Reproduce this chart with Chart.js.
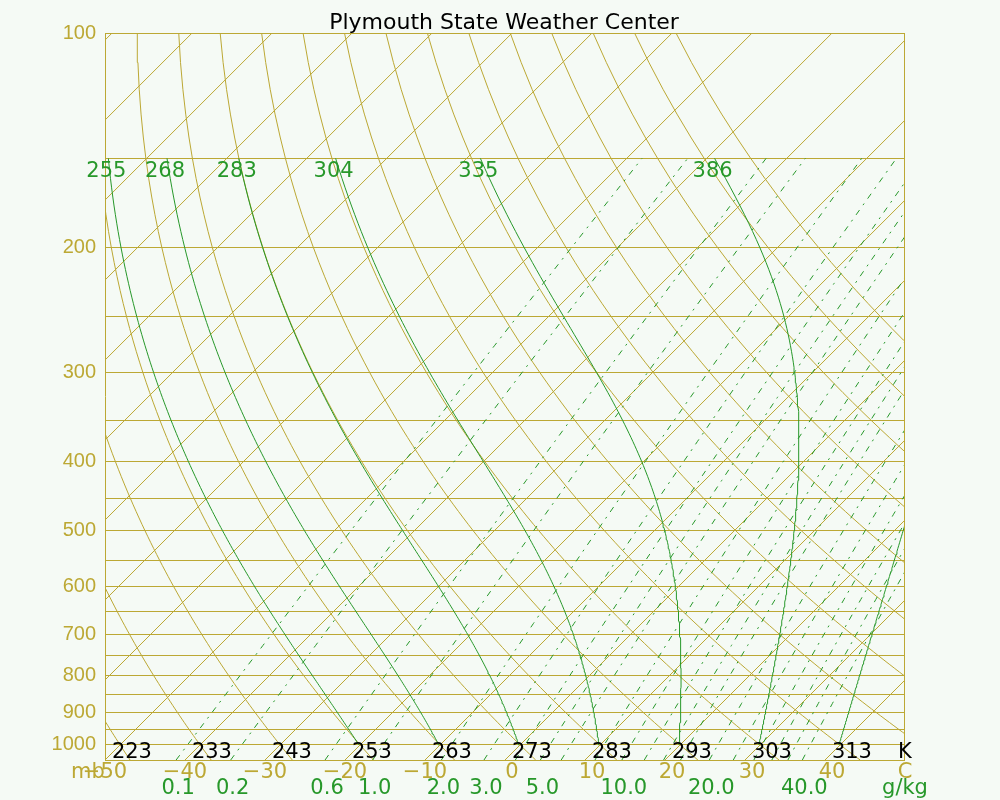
<!DOCTYPE html>
<html>
<head>
<meta charset="utf-8">
<title>Skew-T</title>
<script src="https://cdn.jsdelivr.net/npm/chart.js@4.4.0/dist/chart.umd.min.js"></script>
<style>
  html, body { margin: 0; padding: 0; background: #f5faf5; }
  #wrap { width: 1000px; height: 800px; }
</style>
</head>
<body>
<div id="wrap"><canvas id="skewt" width="1000" height="800"></canvas></div>
<script>
// isobars (mb) and the ones that get a label
const isobars = [100, 150, 200, 250, 300, 350, 400, 450, 500, 550, 600, 650, 700, 750, 800, 850, 900, 950, 1000, 1050];
const isobarLabels = [100, 200, 300, 400, 500, 600, 700, 800, 900, 1000];

// isotherms (deg C)
const isotherms = [-160, -150, -140, -130, -120, -110, -100, -90, -80, -70, -60, -50, -40, -30, -20, -10, 0, 10, 20, 30, 40];
// dry adiabats, potential temperature in deg C
const dryAdiabats = [-50, -40, -30, -20, -10, 0, 10, 20, 30, 40, 50, 60, 70, 80, 90, 100, 110, 120];
// moist adiabats, start temperature at 1000 mb (K)
const moistAdiabats = [253, 263, 273, 283, 293, 303, 313];
const moistTopLabels = ['255', '268', '283', '304', '335', '386'];
// saturation mixing ratio lines (g/kg)
const mixingRatios = [0.1, 0.2, 0.6, 1, 2, 3, 4, 5, 6, 8, 10, 12, 14, 16, 20, 24, 28, 32, 36, 40];
const mixingLabels = [0.1, 0.2, 0.6, 1.0, 2.0, 3.0, 5.0, 10.0, 20.0, 40.0];

// bottom labels
const tempLabels = [-50, -40, -30, -20, -10, 0, 10, 20, 30, 40];
const kelvinLabels = [223, 233, 243, 253, 263, 273, 283, 293, 303, 313];

const OLIVE = '#bca834';
const GREEN = '#27982a';
const BG = '#f5faf5';

const P_TOP = 100, P_BOT = 1050;
const SKEW = 89; // deg C per pressure decade -> 45 degree isotherms

// skewed x coordinate for a temperature at a pressure
function skewX(tC, p) {
    return tC + SKEW * Math.log10(1000 / p);
}
const X_MIN = skewX(-50, P_BOT);
const X_MAX = skewX(50, P_BOT);

function satVap(tC) {
    return 6.112 * Math.exp(17.67 * tC / (tC + 243.5));
}
function satMix(tC, p) {
    const e = satVap(tC);
    return 0.622 * e / (p - e);
}
// temperature where saturation mixing ratio (g/kg) is reached
function tempForMix(w, p) {
    const e = w * p / (622 + w);
    const l = Math.log(e / 6.112);
    return 243.5 * l / (17.67 - l);
}
function moistLapse(tK, p) {
    const Rd = 287.04, cp = 1005.7, Lv = 2.501e6, eps = 0.622;
    const rs = satMix(tK - 273.15, p);
    return (Rd * tK + Lv * rs) / (cp + Lv * Lv * rs * eps / (Rd * tK * tK)) / p;
}

function isothermLine(t) {
    return [{ x: skewX(t, P_BOT), y: P_BOT }, { x: skewX(t, P_TOP), y: P_TOP }];
}
function dryLine(thetaC) {
    const pts = [];
    for (let p = P_BOT; p >= P_TOP; p -= 10) {
        const t = (thetaC + 273.15) * Math.pow(p / 1000, 0.2857) - 273.15;
        pts.push({ x: skewX(t, p), y: p });
    }
    return pts;
}
function moistLine(t0K) {
    const pts = [{ x: skewX(t0K - 273.15, 1000), y: 1000 }];
    let t = t0K;
    const dp = -5;
    for (let p = 1000; p > 150; p += dp) {
        const k1 = moistLapse(t, p);
        const k2 = moistLapse(t + k1 * dp / 2, p + dp / 2);
        const k3 = moistLapse(t + k2 * dp / 2, p + dp / 2);
        const k4 = moistLapse(t + k3 * dp, p + dp);
        t += dp * (k1 + 2 * k2 + 2 * k3 + k4) / 6;
        pts.push({ x: skewX(t - 273.15, p + dp), y: p + dp });
    }
    return pts;
}
function mixLine(w) {
    const pts = [];
    for (let p = P_BOT; p >= 150; p -= 25) {
        pts.push({ x: skewX(tempForMix(w, p), p), y: p });
    }
    return pts;
}

const datasets = [];
moistAdiabats.forEach(t => datasets.push({ data: moistLine(t), borderColor: GREEN }));
mixingRatios.forEach(w => datasets.push({ data: mixLine(w), borderColor: GREEN, borderDash: [6, 6, 2, 6] }));
isotherms.forEach(t => datasets.push({ data: isothermLine(t), borderColor: OLIVE }));
dryAdiabats.forEach(th => datasets.push({ data: dryLine(th), borderColor: OLIVE }));
datasets.forEach(d => {
    d.showLine = true;
    d.pointRadius = 0;
    d.borderWidth = 1;
    d.clip = 0;
});

const labelPlugin = {
    id: 'skewtLabels',
    beforeDraw(chart) {
        const ctx = chart.ctx;
        ctx.save();
        ctx.fillStyle = BG;
        ctx.fillRect(0, 0, chart.width, chart.height);
        ctx.restore();
    },
    afterDraw(chart) {
        const ctx = chart.ctx;
        const xs = chart.scales.x;
        const area = chart.chartArea;
        ctx.save();

        // frame sides
        ctx.strokeStyle = OLIVE;
        ctx.lineWidth = 1;
        ctx.beginPath();
        ctx.moveTo(Math.round(area.left) + 0.5, area.top);
        ctx.lineTo(Math.round(area.left) + 0.5, area.bottom);
        ctx.moveTo(Math.round(area.right) - 0.5, area.top);
        ctx.lineTo(Math.round(area.right) - 0.5, area.bottom);
        ctx.stroke();

        // title
        ctx.fillStyle = '#000';
        ctx.font = '22px "DejaVu Sans"';
        ctx.textAlign = 'center';
        ctx.textBaseline = 'alphabetic';
        ctx.fillText('Plymouth State Weather Center', 504, 29);

        // kelvin labels along 1000 mb
        ctx.font = '21px "DejaVu Sans"';
        ctx.textAlign = 'left';
        kelvinLabels.forEach(k => {
            const px = xs.getPixelForValue(skewX(k - 273.15, 1000));
            ctx.fillText(String(k), px - 7, 758);
        });
        ctx.fillText('K', 898, 758);

        // temperature labels under the frame
        ctx.fillStyle = OLIVE;
        ctx.textAlign = 'center';
        tempLabels.forEach(t => {
            let px = xs.getPixelForValue(skewX(t, P_BOT));
            const txt = t < 0 ? '\u2212' + Math.abs(t) : String(t);
            if (t >= 0) px += 7;
            ctx.fillText(txt, px, 778);
        });
        ctx.fillText('C', xs.getPixelForValue(skewX(50, P_BOT)), 778);
        ctx.textAlign = 'left';
        ctx.fillText('mb', 71, 778);

        // mixing ratio labels
        ctx.fillStyle = GREEN;
        ctx.textAlign = 'center';
        mixingLabels.forEach(w => {
            const px = xs.getPixelForValue(skewX(tempForMix(w, P_BOT), P_BOT));
            ctx.fillText(w.toFixed(1), px + 2, 794);
        });
        ctx.fillText('g/kg', 905, 794);

        // moist adiabat labels at 150 mb
        moistTopLabels.forEach((lab, i) => {
            const pts = chart.data.datasets[i].data;
            const top = pts[pts.length - 1];
            const px = xs.getPixelForValue(top.x);
            ctx.fillText(lab, px - 2, 177);
        });
        ctx.restore();
    }
};

new Chart(document.getElementById('skewt'), {
    type: 'scatter',
    data: { datasets },
    options: {
        responsive: false,
        devicePixelRatio: 1,
        animation: false,
        events: [],
        layout: { padding: { left: 0, top: 33, right: 95, bottom: 40 } },
        plugins: { legend: { display: false }, tooltip: { enabled: false } },
        scales: {
            x: { type: 'linear', min: X_MIN, max: X_MAX, display: false },
            y: {
                type: 'logarithmic',
                reverse: true,
                min: P_TOP,
                max: P_BOT,
                afterBuildTicks: s => { s.ticks = isobars.map(v => ({ value: v })); },
                afterFit: s => { s.width = 105; },
                grid: { color: OLIVE, lineWidth: 1, drawTicks: false },
                border: { display: false },
                ticks: {
                    autoSkip: false,
                    padding: 9,
                    color: OLIVE,
                    font: { family: 'Liberation Sans', size: 20 },
                    callback: v => isobarLabels.includes(v) ? String(v) : ''
                }
            }
        }
    },
    plugins: [labelPlugin]
});
</script>
</body>
</html>
